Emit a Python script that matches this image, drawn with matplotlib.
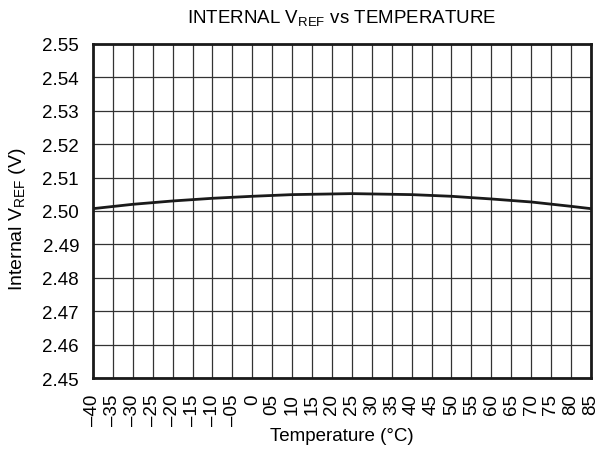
import matplotlib.pyplot as plt

plt.rcParams['font.family'] = ['Liberation Sans', 'DejaVu Sans']
plt.rcParams['mathtext.fontset'] = 'custom'
plt.rcParams['mathtext.rm'] = 'Liberation Sans'

# Data
temps = [-40, -30, -20, -10, 0, 10, 20, 25, 30, 40, 50, 60, 70, 80, 85]
vref = [2.5007, 2.5020, 2.5030, 2.5038, 2.5044, 2.5049, 2.5051, 2.5052,
        2.5051, 2.5049, 2.5044, 2.5036, 2.5027, 2.5014, 2.5007]

x_ticks = list(range(-40, 90, 5))
x_labels = ['\u201340', '\u201335', '\u201330', '\u201325', '\u201320', '\u201315',
            '\u201310', '\u201305', '0', '05', '10', '15', '20', '25', '30', '35',
            '40', '45', '50', '55', '60', '65', '70', '75', '80', '85']
y_ticks = [2.45, 2.46, 2.47, 2.48, 2.49, 2.50, 2.51, 2.52, 2.53, 2.54, 2.55]

fig = plt.figure(figsize=(5.98, 4.52), dpi=100)
ax = fig.add_axes([0.1555, 0.1615, 0.8325, 0.739])

ax.plot(temps, vref, color='#1a1a1a', linewidth=2)

ax.set_xlim(-40, 85)
ax.set_ylim(2.45, 2.55)
ax.set_xticks(x_ticks)
ax.set_xticklabels(x_labels, rotation=90, fontsize=13.5)
ax.set_yticks(y_ticks)
ax.set_yticklabels([f'{v:.2f}' for v in y_ticks], fontsize=13.5)
ax.tick_params(axis='x', length=0, pad=11)
ax.tick_params(axis='y', length=0, pad=10)
ax.grid(True, color='#333333', linewidth=0.9)

for sp in ax.spines.values():
    sp.set_linewidth(2)
    sp.set_color('#1a1a1a')

ax.set_title('INTERNAL V$_{\\mathregular{REF}}$ vs TEMPERATURE', fontsize=13.5, pad=15)
ax.set_xlabel('Temperature (\u00b0C)', fontsize=13.5)
ax.set_ylabel('Internal V$_{\\mathregular{REF}}$ (V)', fontsize=14)
ax.xaxis.set_label_coords(0.5, -0.147)
ax.yaxis.set_label_coords(-0.13, 0.479)

plt.savefig('out.png', dpi=100)
